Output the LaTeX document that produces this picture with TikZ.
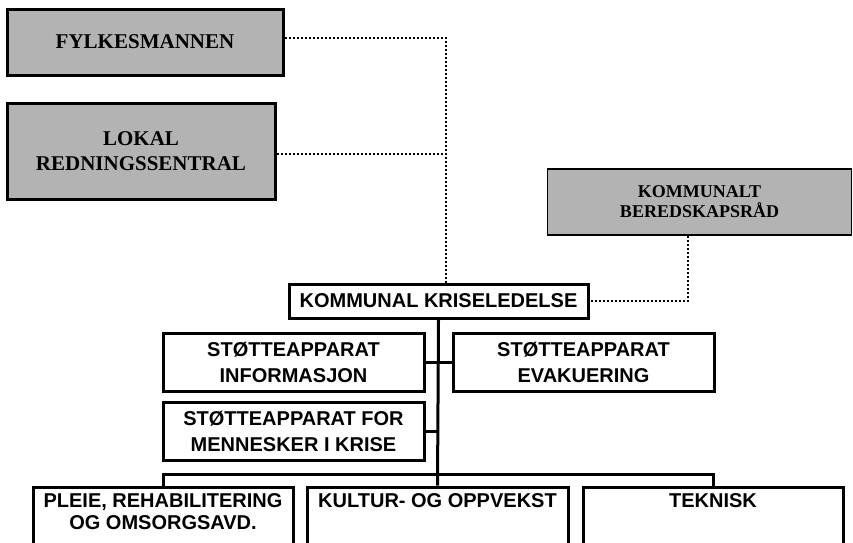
\documentclass[tikz,border=0pt]{standalone}
\usepackage{fontspec}
\setmainfont{Liberation Serif}
\setsansfont{Liberation Sans}
\definecolor{boxgray}{RGB}{179,179,179}
\tikzset{
  graybox/.style={draw=black, line width=3pt, fill=boxgray, inner sep=0pt, align=center,
    font=\rmfamily\bfseries\fontsize{21}{25}\selectfont},
  thingray/.style={draw=black, line width=1.2pt, fill=boxgray, inner sep=0pt, align=center,
    font=\rmfamily\bfseries\fontsize{18}{20}\selectfont},
  whitebox/.style={draw=black, line width=3pt, fill=white, inner sep=0pt, align=center,
    font=\sffamily\bfseries\fontsize{20}{26}\selectfont},
  lowtext/.style={inner sep=0pt, align=center, anchor=north,
    font=\sffamily\bfseries\fontsize{20}{22}\selectfont},
  conn/.style={line width=3pt},
  dotline/.style={line width=2.2pt, dash pattern=on 2pt off 2pt}
}
\begin{document}
\begin{tikzpicture}[x=1pt,y=-1pt]
\useasboundingbox (0,0) rectangle (853,542);
\clip (0,0) rectangle (853,542);
% top gray boxes
\node[graybox, minimum width=276pt, minimum height=66pt] (fylk) at (145,42) {FYLKESMANNEN};
\node[graybox, minimum width=268pt, minimum height=96pt] (lokal) at (141,151) {LOKAL\\REDNINGSSENTRAL};
\node[thingray, minimum width=304pt, minimum height=66pt] (kber) at (699.5,202) {KOMMUNALT\\BEREDSKAPSRÅD};
% central
\node[whitebox, minimum width=299pt, minimum height=34pt] (krise) at (438.5,301) {KOMMUNAL KRISELEDELSE};
\node[whitebox, minimum width=261pt, minimum height=58pt] (info) at (293.5,362) {STØTTEAPPARAT\\INFORMASJON};
\node[whitebox, minimum width=261pt, minimum height=58pt] (evak) at (583.5,362) {STØTTEAPPARAT\\EVAKUERING};
\node[whitebox, minimum width=261pt, minimum height=58pt] (menn) at (293.5,431) {STØTTEAPPARAT FOR\\MENNESKER I KRISE};
% bottom boxes
\node[whitebox, minimum width=260pt, minimum height=90pt] (pleie) at (163,532) {};
\node[whitebox, minimum width=261pt, minimum height=90pt] (kultur) at (437.5,532) {};
\node[whitebox, minimum width=260pt, minimum height=90pt] (tek) at (713,532) {};
\node[lowtext] (pleiet) at ([yshift=-8pt]pleie.north) {PLEIE, REHABILITERING\\OG OMSORGSAVD.};
\node[lowtext] (kulturt) at ([yshift=-8pt]kultur.north) {KULTUR- OG OPPVEKST};
\node[lowtext] (tekt) at ([yshift=-8pt]tek.north) {TEKNISK};
% dotted connectors
\coordinate (j1) at (446,38);
\coordinate (j2) at (446,154);
\coordinate (j3) at (688,301);
\draw[dotline] (fylk.east |- j1) -- (j1) -- (j1 |- krise.north);
\draw[dotline] (lokal.east |- j2) -- (j2);
\draw[dotline] (kber.south -| j3) -- (j3) -- (krise.east);
% solid connectors
\coordinate (bus) at (0,474);
\draw[conn] (krise.south) -- (kultur.north);
\draw[conn] (info.east) -- (evak.west);
\draw[conn] (menn.east) -- (menn.east -| krise.south);
\draw[conn] (pleie.north) -- (pleie.north |- bus) -- (tek.north |- bus) -- (tek.north);
\end{tikzpicture}
\end{document}
